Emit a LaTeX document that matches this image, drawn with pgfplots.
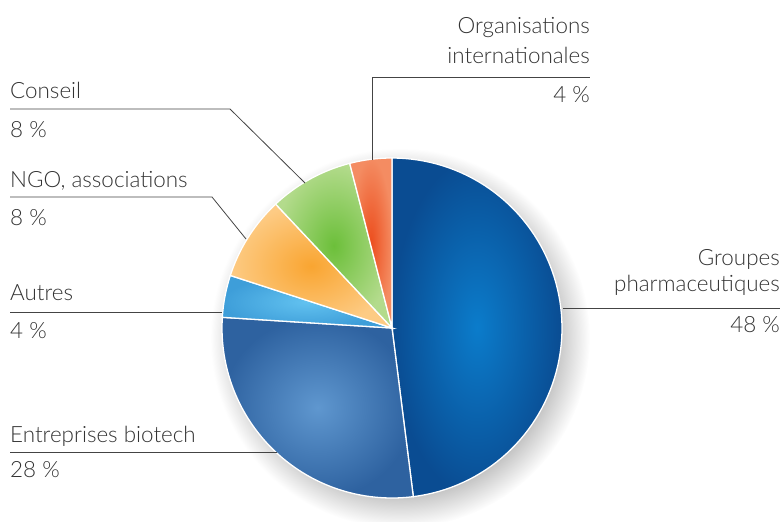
\documentclass[border=0pt]{standalone}
\usepackage{pgfplots}
\pgfplotsset{compat=1.18}
\usepackage{fontspec}
\setmainfont{Lato}[UprightFont={* Light}]
\definecolor{txt}{HTML}{333333}
\definecolor{lin}{HTML}{444444}
\definecolor{gA}{HTML}{0B7CCB}\definecolor{gAo}{HTML}{0A4C92}
\definecolor{gB}{HTML}{5F97CF}\definecolor{gBo}{HTML}{2E62A0}
\definecolor{gC}{HTML}{62C2F0}\definecolor{gCo}{HTML}{3E9ED9}
\definecolor{gD}{HTML}{F9A531}\definecolor{gDo}{HTML}{FDCB84}
\definecolor{gE}{HTML}{6CBF3A}\definecolor{gEo}{HTML}{B3DB8C}
\definecolor{gF}{HTML}{EC4E1E}\definecolor{gFo}{HTML}{F48C62}
\pgfdeclareradialshading{pieshadow}{\pgfpoint{0bp}{0bp}}{color(0bp)=(black!24); color(20.5bp)=(black!24); color(25bp)=(white); color(50bp)=(white)}
% slice: #1 cumulative start (%), #2 value (%), #3 inner colour, #4 outer colour
\newcommand\slice[4]{%
  \addplot[draw=white, line width=1.3pt, inner color=#3, outer color=#4,
    domain={90-3.6*(#1+#2)}:{90-3.6*#1}, samples=80, variable=\t]
    ({392+170*cos(t)},{328-170*sin(t)}) -- (axis cs:392,328) -- cycle;}
\begin{document}
\begin{tikzpicture}
\begin{axis}[scale only axis, width=782bp, height=522bp,
  xmin=0, xmax=782, ymin=0, ymax=522, y dir=reverse,
  hide axis, clip=false]
% shadow
\addplot[draw=none, shading=pieshadow, domain=0:360, samples=90, variable=\t]
  ({400+190*cos(t)},{338-190*sin(t)}) -- cycle;
% slices: Groupes 48, Biotech 28, Autres 4, NGO 8, Conseil 8, Org. int. 4
\slice{0}{48}{gA}{gAo}
\slice{48}{28}{gB}{gBo}
\slice{76}{4}{gC}{gCo}
\slice{80}{8}{gD}{gDo}
\slice{88}{8}{gE}{gEo}
\slice{96}{4}{gF}{gFo}
% leader lines
\addplot[draw=lin, line width=0.8pt] coordinates {(372,160) (372,77) (590,77)};
\addplot[draw=lin, line width=0.8pt] coordinates {(563,308) (780,308)};
\addplot[draw=lin, line width=0.8pt] coordinates {(10,109) (230,109) (305,183)};
\addplot[draw=lin, line width=0.8pt] coordinates {(10,197) (212,197) (246,239)};
\addplot[draw=lin, line width=0.8pt] coordinates {(10,312) (222,312)};
\addplot[draw=lin, line width=0.8pt] coordinates {(10,452) (277,452)};
% labels
\begin{scope}[every node/.style={text=txt, font=\fontsize{22.5}{27}\selectfont, inner sep=0pt}]
\node[anchor=base east] at (axis cs:590,34) {Organisations};
\node[anchor=base east] at (axis cs:590,64) {internationales};
\node[anchor=base east] at (axis cs:590,102) {4 \%};
\node[anchor=base east] at (axis cs:780,265) {Groupes};
\node[anchor=base east] at (axis cs:780,291) {pharmaceutiques};
\node[anchor=base east] at (axis cs:780,332) {48 \%};
\node[anchor=base west] at (axis cs:10,98) {Conseil};
\node[anchor=base west] at (axis cs:10,137) {8 \%};
\node[anchor=base west] at (axis cs:10,187) {NGO, associations};
\node[anchor=base west] at (axis cs:10,225) {8 \%};
\node[anchor=base west] at (axis cs:10,300) {Autres};
\node[anchor=base west] at (axis cs:10,338) {4 \%};
\node[anchor=base west] at (axis cs:10,442) {Entreprises biotech};
\node[anchor=base west] at (axis cs:10,477) {28 \%};
\end{scope}
\end{axis}
\pgfresetboundingbox
\path[use as bounding box] (0,0) rectangle (782bp,522bp);
\end{tikzpicture}
\end{document}
